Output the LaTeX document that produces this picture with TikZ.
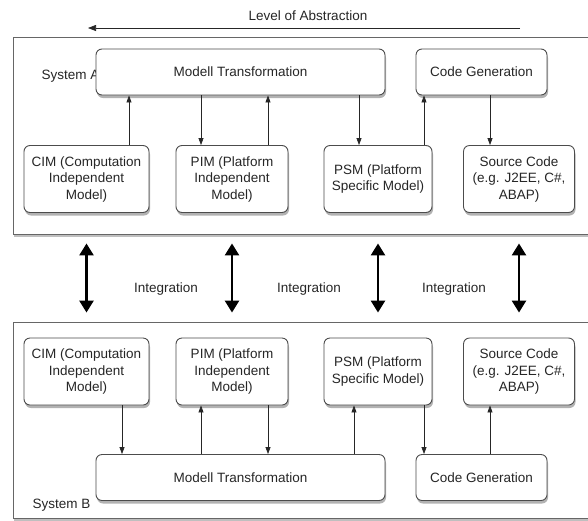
\documentclass[tikz,border=0pt]{standalone}
\usepackage{fontspec}
\setmainfont{Liberation Sans}
\usetikzlibrary{arrows.meta,shadows}

\begin{document}
\begin{tikzpicture}[x=1pt,y=-1pt,
    font=\fontsize{13.5}{16.5}\selectfont,
    every node/.style={text=black!85},
    box/.style={draw=black!70,line width=0.9pt,rounded corners=6pt,fill=white,
      align=center,inner sep=0pt,minimum height=67pt,
      drop shadow={shadow xshift=1pt,shadow yshift=-3pt,opacity=0.6}},
    sysbox/.style={draw=black!60,line width=0.9pt,fill=white,inner sep=0pt,
      minimum width=579pt,
      drop shadow={shadow xshift=0.5pt,shadow yshift=-2.5pt,opacity=0.5}},
    link/.style={-{Triangle[length=7pt,width=5pt]},line width=0.7pt,draw=black!85},
    integ/.style={{Triangle[length=12pt,width=14pt]}-{Triangle[length=12pt,width=14pt]},
      line width=2.6pt,shorten <=9pt,shorten >=9pt}]
  \useasboundingbox (0,0) rectangle (588,520);

  % Level of abstraction
  \coordinate (absR) at (520,28);
  \coordinate (absL) at (88,28);
  \draw[-{Triangle[length=8pt,width=6pt]},line width=0.7pt,black!85] (absR) -- (absL);
  \node (lvl) at (308,16) {Level of Abstraction};

  % System frames
  \node[sysbox,minimum height=197pt] (sysA) at (302.5,135.5) {};
  \node[sysbox,minimum height=196pt] (sysB) at (302.5,420) {};
  \node[anchor=west] (nameA) at (38,76) {System A};
  \node[anchor=west] (nameB) at (29,505) {System B};

  % System A boxes
  \node[box,minimum width=289pt,minimum height=46pt] (MTa) at (240.5,72) {Modell Transformation};
  \node[box,minimum width=131pt,minimum height=46pt] (CGa) at (481.5,72) {Code Generation};
  \node[box,minimum width=125pt] (CIMa) at (86.5,179) {CIM (Computation\\Independent\\Model)};
  \node[box,minimum width=112pt] (PIMa) at (232,179) {PIM (Platform\\Independent\\Model)};
  \node[box,minimum width=108pt] (PSMa) at (378,179) {PSM (Platform\\Specific Model)};
  \node[box,minimum width=111pt] (SRCa) at (519,179) {Source Code\\(e.g. J2EE, C\#,\\ABAP)};

  % System B boxes
  \node[box,minimum width=125pt] (CIMb) at (86.5,371.5) {CIM (Computation\\Independent\\Model)};
  \node[box,minimum width=112pt] (PIMb) at (232,371.5) {PIM (Platform\\Independent\\Model)};
  \node[box,minimum width=108pt] (PSMb) at (378,371.5) {PSM (Platform\\Specific Model)};
  \node[box,minimum width=111pt] (SRCb) at (519,371.5) {Source Code\\(e.g. J2EE, C\#,\\ABAP)};
  \node[box,minimum width=289pt,minimum height=46pt] (MTb) at (240.5,477.5) {Modell Transformation};
  \node[box,minimum width=131pt,minimum height=46pt] (CGb) at (481.5,477.5) {Code Generation};

  % Links in system A
  \draw[link] ([xshift=42.5pt]CIMa.north) -- ([xshift=42.5pt]CIMa.north |- MTa.south);
  \draw[link] ([xshift=-31pt]PIMa.north |- MTa.south) -- ([xshift=-31pt]PIMa.north);
  \draw[link] ([xshift=36pt]PIMa.north) -- ([xshift=36pt]PIMa.north |- MTa.south);
  \draw[link] ([xshift=-19pt]PSMa.north |- MTa.south) -- ([xshift=-19pt]PSMa.north);
  \draw[link] ([xshift=46pt]PSMa.north) -- ([xshift=46pt]PSMa.north |- CGa.south);
  \draw[link] ([xshift=-29pt]SRCa.north |- CGa.south) -- ([xshift=-29pt]SRCa.north);

  % Links in system B
  \draw[link] ([xshift=35.5pt]CIMb.south) -- ([xshift=35.5pt]CIMb.south |- MTb.north);
  \draw[link] ([xshift=-31pt]PIMb.south |- MTb.north) -- ([xshift=-31pt]PIMb.south);
  \draw[link] ([xshift=36pt]PIMb.south) -- ([xshift=36pt]PIMb.south |- MTb.north);
  \draw[link] ([xshift=-24pt]PSMb.south |- MTb.north) -- ([xshift=-24pt]PSMb.south);
  \draw[link] ([xshift=46pt]PSMb.south) -- ([xshift=46pt]PSMb.south |- CGb.north);
  \draw[link] ([xshift=-29pt]SRCb.south |- CGb.north) -- ([xshift=-29pt]SRCb.south);

  % Integration
  \draw[integ] (CIMa |- sysA.south) -- (CIMb |- sysB.north);
  \draw[integ] (PIMa |- sysA.south) -- (PIMb |- sysB.north);
  \draw[integ] (PSMa |- sysA.south) -- (PSMb |- sysB.north);
  \draw[integ] (SRCa |- sysA.south) -- (SRCb |- sysB.north);
  \node (int1) at (166,289) {Integration};
  \node (int2) at (309,289) {Integration};
  \node (int3) at (454,289) {Integration};
\end{tikzpicture}
\end{document}
